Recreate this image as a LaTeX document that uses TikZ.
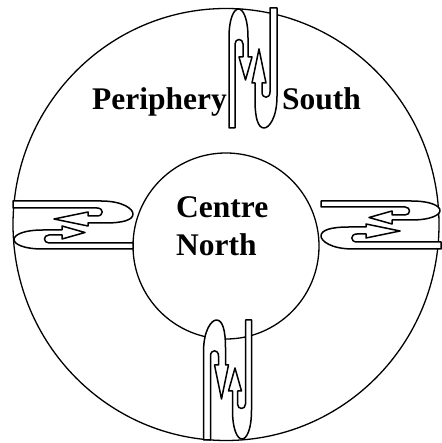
\documentclass[tikz,border=0pt]{standalone}
\usepackage{fontspec}
\setmainfont{Liberation Serif}
\usepackage{tikz}

\tikzset{
  ring/.style={draw, line width=1.3pt},
  link/.style={draw, fill=white, line width=1.5pt, line join=round},
  label/.style={font=\fontsize{31.5}{38}\selectfont\bfseries, inner sep=0pt},
  pics/coupler/.style={code={
    % strip from the inner end, hook at the outer end, arrow back in
    \draw[link] (-24,-60) -- (-24,30)
      .. controls (-24,50) and (-19,59) .. (-14.5,59)
      .. controls (-10,59) and (-5,50) .. (-5,30) -- (-5,11) -- (-1,11)
      -- (-7.5,-12) -- (-14,11) -- (-10,11) -- (-10,24)
      .. controls (-10,30) and (-18,30) .. (-18,24) -- (-18,-60) -- cycle;
    % strip from the outer end, hook at the inner end, arrow back out
    \draw[link] (24,60) -- (24,-28)
      .. controls (24,-50) and (16,-60) .. (11,-60)
      .. controls (5,-60) and (2,-50) .. (2,-32) -- (2,-15) -- (-1,-15)
      -- (6,19) -- (13,-15) -- (9,-15) -- (9,-24)
      .. controls (9,-31) and (17,-31) .. (17,-24) -- (17,60) -- cycle;
  }}
}

\begin{document}
\begin{tikzpicture}[x=1pt, y=1pt]
  \useasboundingbox (0,0) rectangle (441,443);

  % rings
  \draw[ring] (226,218.5) ellipse (213 and 216);
  \node[ring, circle, minimum size=186, inner sep=0pt] (centreRing) at (226,197) {};

  % couplers across the ring
  \pic (topLink) at (253,375) {coupler};
  \pic[rotate=180] (bottomLink) at (227.5,63) {coupler};
  \pic[rotate=90] (leftLink) at (73,218) {coupler};
  \pic[rotate=-90] (rightLink) at (381,218) {coupler};

  % labels
  \node[label, anchor=base east] (periphery) at (227,333) {Periphery};
  \node[label, anchor=base west] (south) at (282,333) {South};
  \node[label, anchor=base west, align=left] (centre) at (176,187) {Centre\\North};
\end{tikzpicture}
\end{document}
